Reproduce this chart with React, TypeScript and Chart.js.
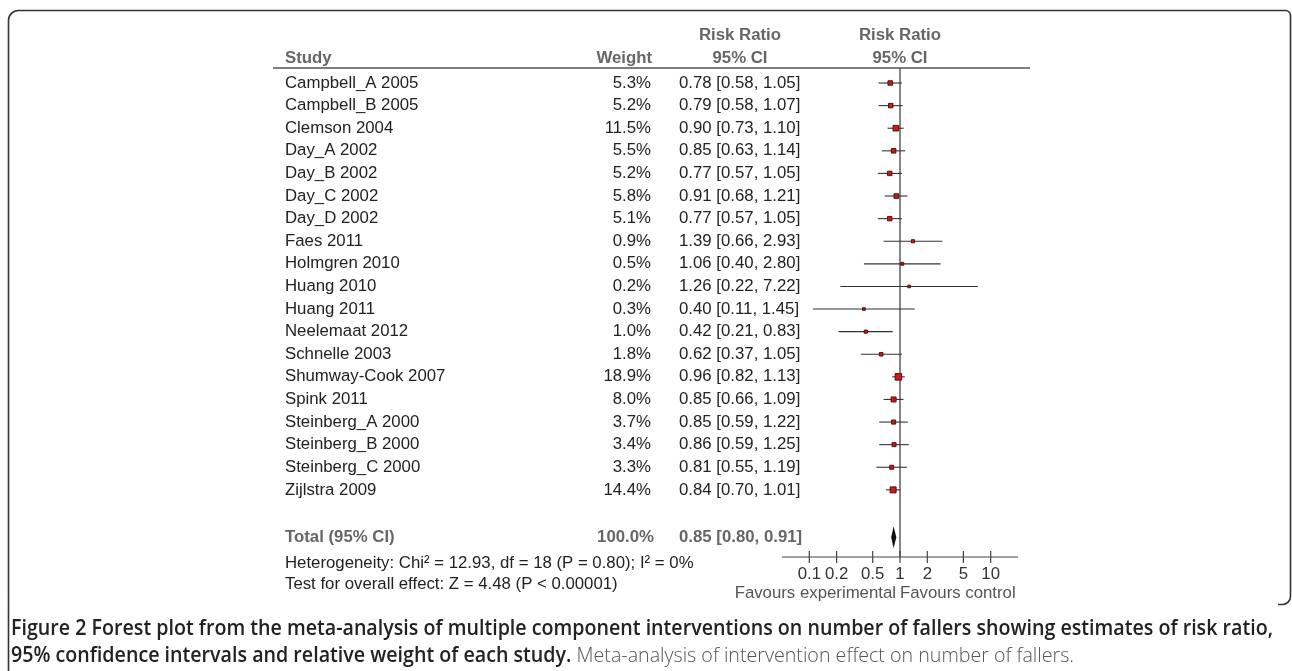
import React, { useEffect, useRef } from "react";
import { Chart, registerables } from "chart.js";

Chart.register(...registerables);

// ---------- data ----------
const studies = [
  "Campbell_A 2005",
  "Campbell_B 2005",
  "Clemson 2004",
  "Day_A 2002",
  "Day_B 2002",
  "Day_C 2002",
  "Day_D 2002",
  "Faes 2011",
  "Holmgren 2010",
  "Huang 2010",
  "Huang 2011",
  "Neelemaat 2012",
  "Schnelle 2003",
  "Shumway-Cook 2007",
  "Spink 2011",
  "Steinberg_A 2000",
  "Steinberg_B 2000",
  "Steinberg_C 2000",
  "Zijlstra 2009",
];
const weights = [5.3, 5.2, 11.5, 5.5, 5.2, 5.8, 5.1, 0.9, 0.5, 0.2, 0.3, 1.0, 1.8, 18.9, 8.0, 3.7, 3.4, 3.3, 14.4];
const riskRatio = [0.78, 0.79, 0.9, 0.85, 0.77, 0.91, 0.77, 1.39, 1.06, 1.26, 0.4, 0.42, 0.62, 0.96, 0.85, 0.85, 0.86, 0.81, 0.84];
const ciLower = [0.58, 0.58, 0.73, 0.63, 0.57, 0.68, 0.57, 0.66, 0.4, 0.22, 0.11, 0.21, 0.37, 0.82, 0.66, 0.59, 0.59, 0.55, 0.7];
const ciUpper = [1.05, 1.07, 1.1, 1.14, 1.05, 1.21, 1.05, 2.93, 2.8, 7.22, 1.45, 0.83, 1.05, 1.13, 1.09, 1.22, 1.25, 1.19, 1.01];

const totalLabel = "Total (95% CI)";
const totalWeight = "100.0%";
const totalRR = 0.85;
const totalLower = 0.8;
const totalUpper = 0.91;

const xTicks = [0.1, 0.2, 0.5, 1, 2, 5, 10];
const xTickLabels = ["0.1", "0.2", "0.5", "1", "2", "5", "10"];

const headerStudy = "Study";
const headerWeight = "Weight";
const headerRR = "Risk Ratio";
const headerCI = "95% CI";
const favoursLeft = "Favours experimental";
const favoursRight = "Favours control";
const heterogeneityText = "Heterogeneity: Chi² = 12.93, df = 18 (P = 0.80); I² = 0%";
const overallEffectText = "Test for overall effect: Z = 4.48 (P < 0.00001)";

const captionLine1 =
  "Figure 2 Forest plot from the meta-analysis of multiple component interventions on number of fallers showing estimates of risk ratio,";
const captionLine2Bold = "95% confidence intervals and relative weight of each study.";
const captionLine2Regular = " Meta-analysis of intervention effect on number of fallers.";

// ---------- layout constants ----------
const W = 1292;
const H = 671;
const FONT = "'Liberation Sans', Arial, Helvetica, sans-serif";
const FS = 16.8;
const TOTAL_ROW = 20.1;
const HET_ROW = 21.24;
const TEST_ROW = 22.2;

const fmt = (v: number) => v.toFixed(2);
const boxSide = (w: number) => 2.2 + 1.0 * Math.sqrt(w);

const forestPlugin = {
  id: "forestDecor",
  beforeDatasetsDraw(chart: any) {
    const ctx = chart.ctx as CanvasRenderingContext2D;
    const xs = chart.scales.x;
    const ys = chart.scales.y;
    const area = chart.chartArea;
    const x1 = xs.getPixelForValue(1);
    ctx.save();
    // header rule
    ctx.strokeStyle = "#555";
    ctx.lineWidth = 1.5;
    ctx.beginPath();
    ctx.moveTo(273, area.top);
    ctx.lineTo(1030, area.top);
    ctx.stroke();
    // line of no effect
    ctx.strokeStyle = "#444";
    ctx.lineWidth = 1.3;
    ctx.beginPath();
    ctx.moveTo(x1, area.top);
    ctx.lineTo(x1, area.bottom);
    ctx.stroke();
    // CI lines
    ctx.strokeStyle = "#333";
    ctx.lineWidth = 1.1;
    for (let i = 0; i < studies.length; i++) {
      const y = ys.getPixelForValue(i);
      ctx.beginPath();
      ctx.moveTo(xs.getPixelForValue(ciLower[i]), y);
      ctx.lineTo(xs.getPixelForValue(ciUpper[i]), y);
      ctx.stroke();
    }
    // diamond
    const yt = ys.getPixelForValue(TOTAL_ROW);
    const yh = 11;
    ctx.fillStyle = "#111";
    ctx.beginPath();
    ctx.moveTo(xs.getPixelForValue(totalLower), yt);
    ctx.lineTo(xs.getPixelForValue(totalRR), yt - yh);
    ctx.lineTo(xs.getPixelForValue(totalUpper), yt);
    ctx.lineTo(xs.getPixelForValue(totalRR), yt + yh);
    ctx.closePath();
    ctx.fill();
    // axis
    ctx.strokeStyle = "#444";
    ctx.lineWidth = 1.2;
    ctx.beginPath();
    ctx.moveTo(area.left, area.bottom);
    ctx.lineTo(area.right, area.bottom);
    for (const t of xTicks) {
      const px = xs.getPixelForValue(t);
      ctx.moveTo(px, area.bottom - 6);
      ctx.lineTo(px, area.bottom + 6);
    }
    ctx.stroke();
    ctx.restore();
  },
  afterDraw(chart: any) {
    const ctx = chart.ctx as CanvasRenderingContext2D;
    const xs = chart.scales.x;
    const ys = chart.scales.y;
    const area = chart.chartArea;
    const x1 = xs.getPixelForValue(1);
    ctx.save();
    ctx.textBaseline = "middle";

    // headers
    ctx.font = `bold ${FS}px ${FONT}`;
    ctx.fillStyle = "#666";
    ctx.textAlign = "left";
    ctx.fillText(headerStudy, 285, 58);
    ctx.textAlign = "right";
    ctx.fillText(headerWeight, 652, 58);
    ctx.textAlign = "center";
    ctx.fillText(headerRR, 740, 35);
    ctx.fillText(headerCI, 740, 58);
    ctx.fillText(headerRR, x1, 35);
    ctx.fillText(headerCI, x1, 58);

    // rows
    ctx.font = `${FS}px ${FONT}`;
    ctx.fillStyle = "#222";
    for (let i = 0; i < studies.length; i++) {
      const y = ys.getPixelForValue(i);
      ctx.textAlign = "left";
      ctx.fillText(studies[i], 285, y);
      ctx.textAlign = "right";
      ctx.fillText(weights[i].toFixed(1) + "%", 651, y);
      ctx.textAlign = "left";
      ctx.fillText(`${fmt(riskRatio[i])} [${fmt(ciLower[i])}, ${fmt(ciUpper[i])}]`, 679, y);
    }

    // total row
    const yt = ys.getPixelForValue(TOTAL_ROW);
    ctx.font = `bold ${FS}px ${FONT}`;
    ctx.fillStyle = "#666";
    ctx.textAlign = "left";
    ctx.fillText(totalLabel, 285, yt);
    ctx.textAlign = "right";
    ctx.fillText(totalWeight, 654, yt);
    ctx.textAlign = "left";
    ctx.fillText(`${fmt(totalRR)} [${fmt(totalLower)}, ${fmt(totalUpper)}]`, 679, yt);

    // heterogeneity / overall effect
    ctx.font = `${FS}px ${FONT}`;
    ctx.fillStyle = "#222";
    ctx.fillText(heterogeneityText, 285, ys.getPixelForValue(HET_ROW));
    ctx.fillText(overallEffectText, 285, ys.getPixelForValue(TEST_ROW));

    // axis tick labels
    ctx.fillStyle = "#333";
    ctx.textAlign = "center";
    xTicks.forEach((t, k) => {
      ctx.fillText(xTickLabels[k], xs.getPixelForValue(t), area.bottom + 17);
    });
    ctx.fillStyle = "#555";
    ctx.textAlign = "right";
    ctx.fillText(favoursLeft, x1 - 4, area.bottom + 36);
    ctx.textAlign = "left";
    ctx.fillText(favoursRight, x1, area.bottom + 36);

    // frame
    ctx.strokeStyle = "#333";
    ctx.lineWidth = 1.6;
    ctx.beginPath();
    ctx.moveTo(8.5, H);
    ctx.lineTo(8.5, 20);
    ctx.arcTo(8.5, 10.5, 18.5, 10.5, 10);
    ctx.lineTo(1285, 10.5);
    ctx.arcTo(1290.5, 10.5, 1290.5, 16, 5);
    ctx.lineTo(1290.5, 596);
    ctx.arcTo(1290.5, 604.5, 1282, 604.5, 8);
    ctx.lineTo(1278, 604.5);
    ctx.stroke();

    // caption
    const capX = 11;
    const capW = 1262;
    ctx.textAlign = "left";
    ctx.fillStyle = "#222";
    ctx.font = `600 21px 'Open Sans', sans-serif`;
    const w1 = ctx.measureText(captionLine1).width;
    const f = Math.min(1, capW / w1);
    ctx.fillText(captionLine1, capX, 629, capW);
    const wb = ctx.measureText(captionLine2Bold).width * f;
    ctx.fillText(captionLine2Bold, capX, 656, wb);
    ctx.font = `300 21px 'Open Sans', sans-serif`;
    ctx.fillStyle = "#555";
    const wr = ctx.measureText(captionLine2Regular).width * f;
    ctx.fillText(captionLine2Regular, capX + wb, 656, wr);

    ctx.restore();
  },
};

export default function App() {
  const ref = useRef<HTMLCanvasElement | null>(null);

  useEffect(() => {
    if (!ref.current) return;
    const chart = new Chart(ref.current, {
      type: "scatter",
      data: {
        datasets: [
          {
            label: "Risk ratio",
            data: riskRatio.map((r, i) => ({ x: r, y: i })),
            pointStyle: "rect",
            pointRadius: (c: any) => boxSide(weights[c.dataIndex] ?? 1) / (2 * Math.SQRT1_2),
            pointHoverRadius: (c: any) => boxSide(weights[c.dataIndex] ?? 1) / (2 * Math.SQRT1_2),
            backgroundColor: "#cc1a1a",
            borderColor: "#4a0808",
            borderWidth: 0.9,
          },
        ],
      },
      options: {
        responsive: false,
        animation: false,
        devicePixelRatio: 1,
        layout: { padding: { left: 782, right: W - 1018, top: 68, bottom: H - 557 } },
        scales: {
          x: { type: "logarithmic", min: 0.05, max: 20, display: false },
          y: { type: "linear", min: -0.664, max: 20.97, reverse: true, display: false },
        },
        plugins: {
          legend: { display: false },
          tooltip: { enabled: false },
        },
        events: [],
      },
      plugins: [forestPlugin],
    });
    return () => chart.destroy();
  }, []);

  return (
    <div style={{ position: "fixed", left: 0, top: 0, width: W, height: H, background: "#fff" }}>
      <canvas ref={ref} width={W} height={H} style={{ display: "block", width: W, height: H }} />
    </div>
  );
}
